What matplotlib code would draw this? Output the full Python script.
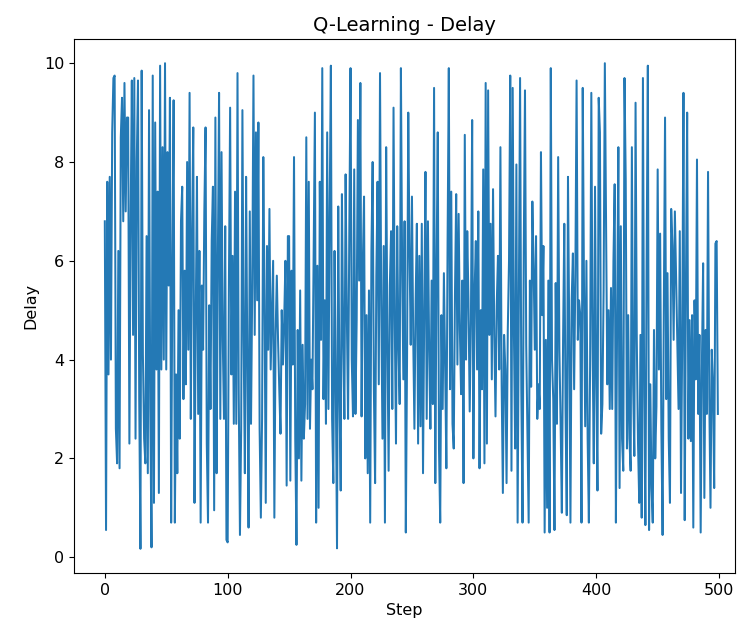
import numpy as np
import matplotlib
matplotlib.use("Agg")
import matplotlib.pyplot as plt

# Delay recorded at each step of the Q-learning run (500 steps)
delay_000 = [6.8, 0.55, 7.6, 3.7, 7.7, 4.0, 8.6, 9.7, 9.75, 2.6,
             1.9, 6.2, 1.8, 8.5, 9.3, 6.8, 9.6, 7.0, 8.9, 8.9,
             2.3, 6.8, 9.65, 4.5, 9.7, 2.4, 8.0, 9.65, 3.2, 0.17,
             9.85, 4.1, 2.4, 1.9, 6.5, 1.7, 9.05, 3.0, 0.2, 9.75,
             1.1, 8.8, 3.8, 7.4, 1.3, 9.95, 3.8, 8.3, 4.0, 10.0]
delay_050 = [3.8, 8.2, 5.5, 9.3, 0.7, 6.0, 9.25, 0.7, 3.7, 1.7,
             5.0, 2.4, 6.8, 7.5, 3.2, 5.8, 3.5, 8.0, 4.2, 9.4,
             2.8, 6.5, 8.7, 1.1, 4.8, 7.7, 2.9, 6.2, 0.7, 5.5,
             4.2, 7.0, 8.7, 2.3, 0.7, 5.1, 3.0, 6.4, 7.5, 0.95,
             8.9, 1.7, 6.0, 9.4, 2.8, 8.2, 4.4, 2.8, 6.7, 0.35]
delay_100 = [0.3, 5.5, 9.1, 3.7, 6.1, 2.7, 7.4, 2.7, 9.8, 3.3,
             0.45, 2.6, 9.05, 4.4, 1.7, 7.7, 3.9, 0.6, 7.0, 2.7,
             5.5, 9.75, 4.5, 8.6, 5.2, 8.8, 2.6, 0.8, 2.8, 8.1,
             5.2, 1.1, 6.3, 4.2, 7.05, 3.8, 4.9, 6.0, 0.8, 4.5,
             5.7, 4.4, 3.4, 2.5, 5.0, 3.9, 4.8, 6.0, 1.45, 6.5]
delay_150 = [6.5, 1.55, 5.8, 3.9, 8.1, 2.4, 0.25, 4.6, 2.0, 5.4,
             1.55, 4.3, 2.4, 3.1, 8.5, 2.8, 7.6, 2.6, 4.0, 3.4,
             6.3, 9.0, 0.7, 5.9, 1.0, 7.6, 4.4, 9.9, 3.2, 5.2,
             2.7, 8.6, 3.0, 7.0, 9.95, 2.8, 1.5, 6.2, 3.5, 0.18,
             7.1, 3.3, 1.35, 7.35, 4.5, 2.8, 7.75, 4.9, 2.8, 6.6]
delay_200 = [9.9, 4.0, 2.85, 7.85, 2.9, 4.8, 8.85, 5.6, 9.6, 2.85,
             5.95, 7.3, 2.0, 4.9, 1.7, 5.4, 0.7, 6.2, 8.0, 3.4,
             1.5, 5.7, 7.6, 3.5, 9.8, 5.1, 2.4, 6.3, 0.7, 8.3,
             4.4, 1.75, 5.5, 6.6, 3.0, 9.1, 4.8, 2.3, 6.7, 4.3,
             3.1, 9.9, 5.9, 3.6, 6.8, 0.5, 4.0, 9.0, 6.2, 4.3]
delay_250 = [7.3, 4.5, 2.6, 5.2, 6.75, 2.3, 6.1, 2.65, 6.75, 1.7,
             5.0, 7.8, 2.8, 6.8, 4.2, 2.6, 5.6, 3.1, 9.5, 1.5,
             5.8, 8.6, 2.2, 0.7, 4.9, 3.0, 5.75, 3.9, 1.8, 6.4,
             9.9, 3.4, 7.4, 2.7, 2.2, 5.3, 7.35, 3.9, 6.95, 4.6,
             3.3, 5.6, 1.5, 8.55, 4.0, 6.6, 5.2, 2.95, 4.8, 8.85]
delay_300 = [2.0, 5.4, 6.4, 3.8, 7.0, 1.8, 5.0, 3.4, 7.85, 1.9,
             9.6, 2.3, 9.45, 4.5, 6.75, 3.6, 7.45, 4.5, 2.85, 5.1,
             6.1, 3.8, 8.3, 3.5, 1.3, 4.5, 3.8, 1.5, 4.6, 6.0,
             9.75, 1.75, 9.5, 4.5, 2.2, 7.95, 0.7, 5.3, 9.7, 3.4,
             0.7, 6.2, 9.45, 4.3, 2.5, 0.7, 5.6, 3.45, 7.2, 5.9]
delay_350 = [4.2, 6.5, 2.8, 3.5, 3.0, 8.2, 4.9, 6.3, 0.5, 4.4,
             1.0, 5.6, 0.5, 9.9, 4.0, 3.2, 0.55, 5.55, 2.7, 8.1,
             4.2, 2.7, 0.9, 4.4, 6.75, 3.0, 0.85, 7.7, 4.6, 0.7,
             5.2, 6.15, 3.4, 5.7, 9.65, 4.4, 5.2, 4.9, 0.7, 9.5,
             5.6, 2.65, 6.0, 2.4, 0.7, 3.9, 9.4, 4.3, 1.9, 7.5]
delay_400 = [3.5, 1.35, 9.3, 8.6, 2.5, 3.1, 5.4, 10.0, 6.75, 3.5,
             5.0, 3.0, 5.45, 3.0, 6.0, 7.55, 0.7, 4.8, 8.3, 1.4,
             6.7, 2.4, 1.75, 9.7, 7.65, 2.2, 4.9, 2.4, 1.75, 8.3,
             3.5, 2.05, 9.2, 4.4, 2.3, 1.1, 4.5, 0.8, 9.7, 3.3,
             0.65, 6.0, 9.95, 0.55, 3.5, 1.4, 0.7, 4.6, 2.0, 3.05]
delay_450 = [7.85, 3.8, 6.55, 2.6, 0.45, 5.0, 8.9, 3.2, 5.75, 2.4,
             1.1, 7.05, 6.3, 4.4, 7.0, 5.7, 4.45, 3.0, 6.6, 1.3,
             4.5, 9.4, 0.75, 5.5, 9.0, 2.4, 4.8, 2.35, 4.9, 0.6,
             5.2, 3.6, 8.05, 2.9, 4.5, 0.5, 3.9, 5.95, 1.2, 4.6,
             2.9, 7.8, 3.25, 1.0, 4.2, 3.5, 1.4, 6.35, 6.4, 2.9]

delay = np.array(delay_000 + delay_050 + delay_100 + delay_150 + delay_200
                 + delay_250 + delay_300 + delay_350 + delay_400 + delay_450)
steps = np.arange(len(delay))

plt.rcParams['font.size'] = 11.5

fig = plt.figure(figsize=(7.41, 6.29), dpi=100)
ax = fig.add_axes([0.100, 0.089, 0.892, 0.849])
ax.plot(steps, delay, color='#2479b5', lw=1.45)

ax.set_xlim(-25, 513)
ax.set_ylim(-0.32, 10.49)
ax.set_xticks([0, 100, 200, 300, 400, 500])
ax.set_yticks([0, 2, 4, 6, 8, 10])
ax.set_title('Q-Learning - Delay', fontsize=14)
ax.set_xlabel('Step')
ax.set_ylabel('Delay')

fig.savefig('out.png', dpi=100)
